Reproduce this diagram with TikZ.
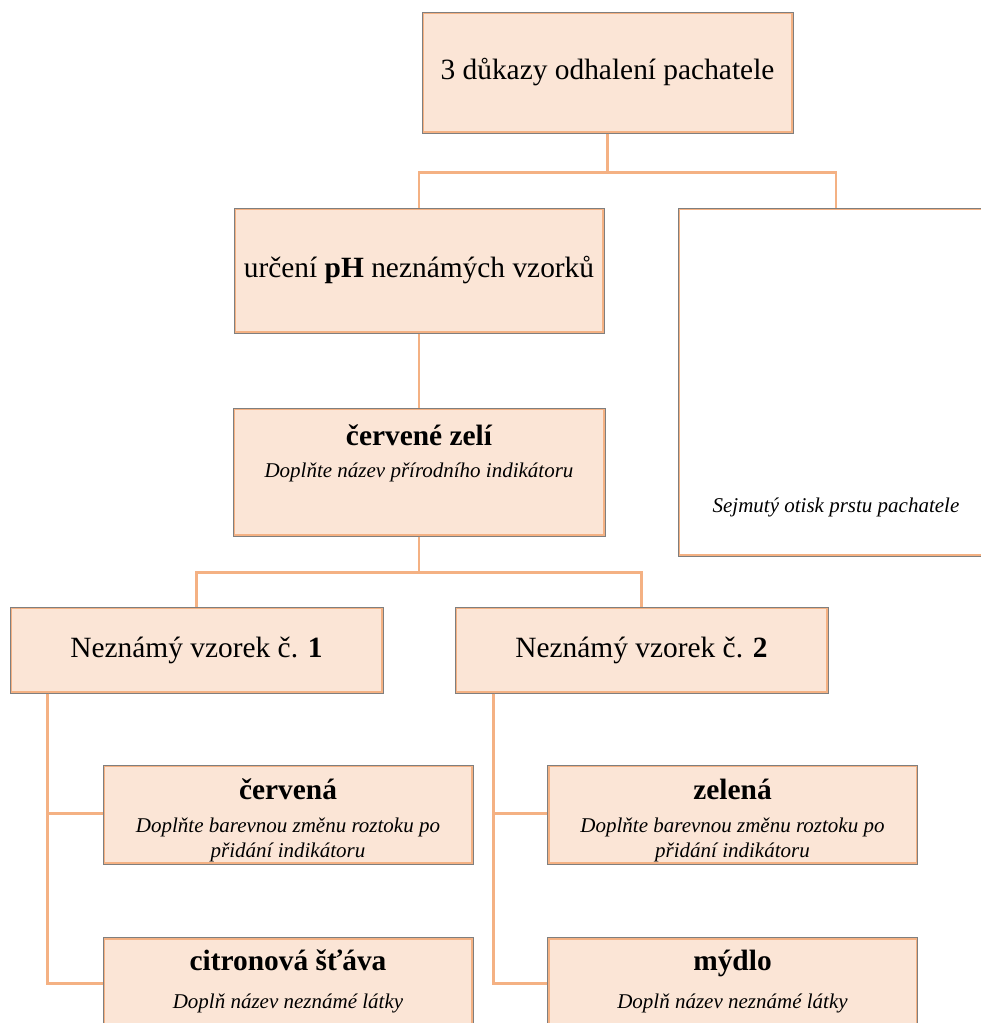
\documentclass[tikz,border=0pt]{standalone}
\usepackage{fontspec}
\setmainfont{Liberation Serif}
\usetikzlibrary{positioning}

\definecolor{boxfill}{HTML}{FBE5D6}
\definecolor{linkline}{HTML}{F4B183}
\definecolor{boxedge}{HTML}{7F7F7F}

\newcommand{\titel}[1]{{\fontsize{29.4}{34}\selectfont\bfseries #1}}
\newcommand{\pokyn}[1]{{\fontsize{21}{25}\selectfont\itshape #1}}

\tikzset{
  box/.style={draw=boxedge,line width=1pt,fill=boxfill,inner sep=0pt,align=center,
    font=\fontsize{29.4}{34}\selectfont,
    path picture={\draw[linkline,line width=4pt] (path picture bounding box.south west) rectangle (path picture bounding box.north east);}},
  notebox/.style={box,font=\fontsize{21}{25}\selectfont},
  emptybox/.style={notebox,fill=white},
  link/.style={draw=linkline,line width=2.5pt}
}

\begin{document}
\begin{tikzpicture}[x=1pt,y=-1pt]
\path[use as bounding box,clip] (0,0) rectangle (981,1023);
\fill[white] (0,0) rectangle (981,1023);

\node[box,minimum width=371,minimum height=121] (dukazy) at (607.5,72.5) {3 důkazy odhalení pachatele};
\node[box,minimum width=370,minimum height=125] (ph) at (419,270.5) {určení \textbf{pH} neznámých vzorků};
\node[emptybox,minimum width=316,minimum height=348] (otisk) at (836,382) {\mbox{}\\[240pt]\pokyn{Sejmutý otisk prstu pachatele}};
\node[notebox,minimum width=372,minimum height=128] (zeli) at (419,472) {\titel{červené zelí}\\[7pt]\pokyn{Doplňte název přírodního indikátoru}\\[16pt]\mbox{}};

\node[box,minimum width=373,minimum height=86] (vzorek1) at (196.5,650) {Neznámý vzorek č. \textbf{1}};
\node[box,minimum width=373,minimum height=86] (vzorek2) at (641.5,650) {Neznámý vzorek č. \textbf{2}};

\node[notebox,minimum width=370,minimum height=99] (cervena) at (288,814.5) {\mbox{}\\[7pt]\titel{červená}\\[8pt]\pokyn{Doplňte barevnou změnu roztoku po}\\\pokyn{přidání indikátoru}};
\node[notebox,minimum width=370,minimum height=99] (zelena) at (732.5,814.5) {\mbox{}\\[7pt]\titel{zelená}\\[8pt]\pokyn{Doplňte barevnou změnu roztoku po}\\\pokyn{přidání indikátoru}};
\node[notebox,minimum width=370,minimum height=88,anchor=north] (citron) at (288,937) {\titel{citronová šťáva}\\[13pt]\pokyn{Doplň název neznámé látky}};
\node[notebox,minimum width=370,minimum height=88,anchor=north] (mydlo) at (732.5,937) {\titel{mýdlo}\\[13pt]\pokyn{Doplň název neznámé látky}};

% spojnice
\draw[link] (dukazy.south) -- ++(0,39) coordinate (j1);
\draw[link] (ph.north) |- (j1) -| (otisk.north);
\draw[link] (ph.south) -- (zeli.north);
\draw[link] (zeli.south) -- ++(0,36) coordinate (j2);
\draw[link] (vzorek1.north) |- (j2) -| (vzorek2.north);
\coordinate (k1) at ([xshift=38pt]vzorek1.south west);
\coordinate (k2) at ([xshift=39pt]vzorek2.south west);
\draw[link] (k1) |- ([yshift=1pt]cervena.west);
\draw[link] (k1) |- ([yshift=-2pt]citron.west);
\draw[link] (k2) |- ([yshift=1pt]zelena.west);
\draw[link] (k2) |- ([yshift=-2pt]mydlo.west);
\end{tikzpicture}
\end{document}
